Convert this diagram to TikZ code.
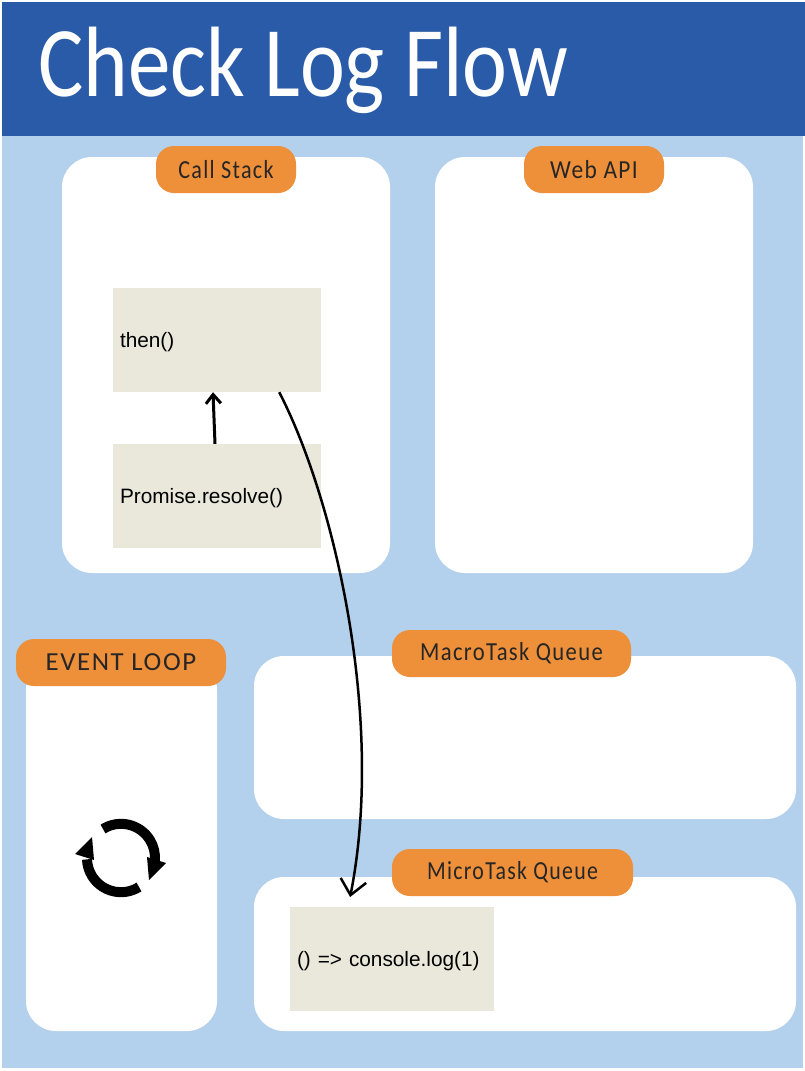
\documentclass[tikz,border=0pt]{standalone}
\usepackage{fontspec}
\setmainfont{Liberation Sans}
\newfontfamily\handfont[LetterSpace=6]{Carlito}
\newfontfamily\titlefont{Carlito}
\definecolor{headerblue}{RGB}{42, 91, 168}
\definecolor{skyblue}{RGB}{179, 209, 236}
\definecolor{tagorange}{RGB}{238, 143, 58}
\definecolor{stackbeige}{RGB}{234, 232, 219}
\definecolor{inkgray}{RGB}{38, 38, 38}
\usetikzlibrary{arrows.meta, positioning, calc}

\begin{document}
\begin{tikzpicture}[
    x=1pt, y=-1pt,
    panel/.style={fill=white, rounded corners=30pt, inner sep=0pt},
    tag/.style={fill=tagorange, rounded corners=18pt, inner sep=0pt, text=inkgray,
                font=\handfont\fontsize{26}{30}\selectfont},
    frame/.style={fill=stackbeige, inner xsep=7pt, inner ysep=0pt, align=left,
                  text height=20pt, text depth=5pt, font=\fontsize{20.8}{25}\selectfont},
    loopline/.style={line width=10pt}
]
    \useasboundingbox (0,0) rectangle (805,1071);
    \node[fill=skyblue, inner sep=0pt, minimum width=801pt, minimum height=1066pt] (page) at (402.5,535) {};
    \node[fill=headerblue, inner sep=0pt, minimum width=803pt, minimum height=134pt] (header) at (403.5,69) {};
    \node[text=white, inner sep=0pt, anchor=west, font=\titlefont\fontsize{100}{104}\selectfont] (title) at (38,70)
        {\scalebox{0.85}[1]{Check Log Flow}};

    % panels
    \node[panel, minimum width=328pt, minimum height=416pt] (stackpanel) at (226,365) {};
    \node[panel, minimum width=318pt, minimum height=416pt] (webpanel) at (594,365) {};
    \node[panel, minimum width=191pt, minimum height=371pt] (looppanel) at (121.5,845.5) {};
    \node[panel, minimum width=542pt, minimum height=163pt] (macropanel) at (525,737.5) {};
    \node[panel, minimum width=542pt, minimum height=154pt] (micropanel) at (525,954) {};

    % labels
    \node[tag, minimum width=140pt, minimum height=47pt] (stacktag) at (226,169.5) {\scalebox{0.85}[1]{Call Stack}};
    \node[tag, minimum width=140pt, minimum height=47pt] (webtag) at (594,169.5) {\scalebox{0.9}[1]{Web API}};
    \node[tag, minimum width=210pt, minimum height=47pt] (looptag) at (121,662.5) {\scalebox{1.03}[1]{EVENT LOOP}};
    \node[tag, minimum width=239pt, minimum height=47pt] (macrotag) at (511.5,653.5) {\scalebox{0.87}[1]{MacroTask Queue}};
    \node[tag, minimum width=241pt, minimum height=47pt] (microtag) at (512.5,872.5) {\scalebox{0.84}[1]{MicroTask Queue}};

    % frames
    \node[frame, text width=194pt, minimum height=104pt] (thenbox) at (217,340) {then()};
    \node[frame, text width=194pt, minimum height=104pt] (promisebox) at (217,496) {Promise.resolve()};
    \node[frame, text width=190pt, minimum height=104pt] (logbox) at (392,959) {() => console.log(1)};

    \draw[-{Straight Barb[length=9pt,width=15pt]}, line width=3pt]
        ([xshift=-2pt]promisebox.north) -- ([xshift=-4pt]thenbox.south);
    \draw[-{Straight Barb[length=15pt,width=26pt]}, line width=2.5pt, shorten >=10pt]
        (thenbox.-40) .. controls (335,500) and (385,720) .. (logbox.130);

    % loop icon
    \coordinate (loopc) at (121,858);
    \draw[loopline] ($(loopc)+(-18,-29)$) arc[start angle=122, end angle=-6, radius=34pt];
    \draw[loopline] ($(loopc)+(18,29)$) arc[start angle=-58, end angle=-178, radius=34pt];
    \fill (147,857) -- (166,863) -- (149,880) -- cycle;
    \fill (75,854) -- (92,837) -- (94,860) -- cycle;
\end{tikzpicture}
\end{document}
